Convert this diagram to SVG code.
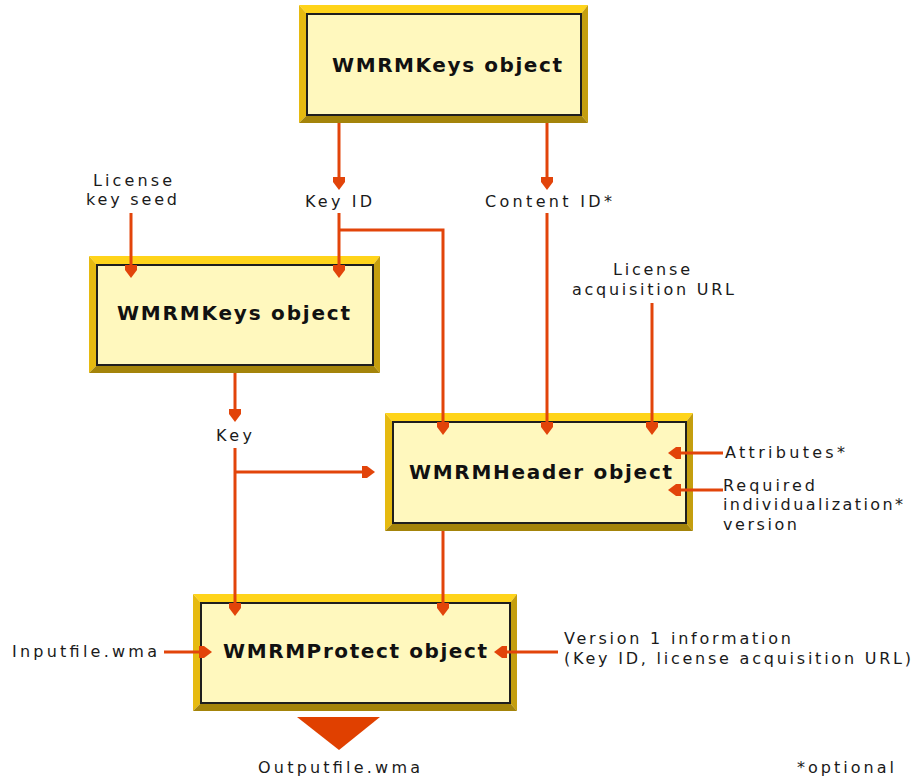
<svg xmlns="http://www.w3.org/2000/svg" width="914" height="779" viewBox="0 0 914 779">
  <style>
    .bt { fill: #FFD41A; }
    .bl { fill: #E6BA10; }
    .br { fill: #C49E0E; }
    .bb { fill: #A4840A; }
    .face { fill: #FFF8BE; stroke: #1E1E1E; stroke-width: 2; }
    .title { font-family: "DejaVu Sans", Verdana, sans-serif; font-weight: bold; font-size: 20px; fill: #111; }
    .lbl { font-family: "DejaVu Sans", Verdana, sans-serif; font-size: 16px; fill: #1a1a1a; }
    .wire { fill: none; stroke: #E2440A; stroke-width: 3; marker-end: url(#head); }
  </style>
  <defs>
    <marker id="head" markerUnits="userSpaceOnUse" viewBox="-6 -7 15 14" refX="0" refY="0" markerWidth="15" markerHeight="14" orient="auto">
      <polygon points="8,0 0,-6 -5,-6 -5,6 0,6" fill="#E2440A"/>
    </marker>
  </defs>

  <rect width="914" height="779" fill="#FFFFFF"/>

  <!-- WMRMKeys object (top) -->
  <g id="keys-top">
    <polygon class="bt" points="299,5 588,5 581,14 307,14"/>
    <polygon class="bl" points="299,5 307,14 307,115 299,123"/>
    <polygon class="br" points="588,5 588,123 581,115 581,14"/>
    <polygon class="bb" points="299,123 307,115 581,115 588,123"/>
    <rect class="face" x="307" y="14" width="274" height="101"/>
    <text class="title" x="332" y="72" textLength="230" lengthAdjust="spacing">WMRMKeys object</text>
  </g>

  <!-- WMRMKeys object (left) -->
  <g id="keys-left">
    <polygon class="bt" points="89,256 380,256 373,265 97,265"/>
    <polygon class="bl" points="89,256 97,265 97,365 89,373"/>
    <polygon class="br" points="380,256 380,373 373,365 373,265"/>
    <polygon class="bb" points="89,373 97,365 373,365 380,373"/>
    <rect class="face" x="97" y="265" width="276" height="100"/>
    <text class="title" x="117" y="320" textLength="233" lengthAdjust="spacing">WMRMKeys object</text>
  </g>

  <!-- WMRMHeader object -->
  <g id="header">
    <polygon class="bt" points="385,413 693,413 686,422 393,422"/>
    <polygon class="bl" points="385,413 393,422 393,523 385,531"/>
    <polygon class="br" points="693,413 693,531 686,523 686,422"/>
    <polygon class="bb" points="385,531 393,523 686,523 693,531"/>
    <rect class="face" x="393" y="422" width="293" height="101"/>
    <text class="title" x="409" y="479" textLength="263" lengthAdjust="spacing">WMRMHeader object</text>
  </g>

  <!-- WMRMProtect object -->
  <g id="protect">
    <polygon class="bt" points="193,594 517,594 510,603 201,603"/>
    <polygon class="bl" points="193,594 201,603 201,703 193,711"/>
    <polygon class="br" points="517,594 517,711 510,703 510,603"/>
    <polygon class="bb" points="193,711 201,703 510,703 517,711"/>
    <rect class="face" x="201" y="603" width="309" height="100"/>
    <text class="title" x="223" y="658" textLength="264" lengthAdjust="spacing">WMRMProtect object</text>
  </g>

  <!-- connectors, drawn over the box edges so the heads stay visible -->
  <g id="connectors">
    <path class="wire" d="M339,123 V182"/>
    <path class="wire" d="M547,123 V182"/>
    <path class="wire" d="M339,213 V270"/>
    <path class="wire" d="M339,230 H443 V427"/>
    <path class="wire" d="M131,213 V270"/>
    <path class="wire" d="M547,213 V427"/>
    <path class="wire" d="M652,303 V427"/>
    <path class="wire" d="M723,453 H676"/>
    <path class="wire" d="M723,490 H676"/>
    <path class="wire" d="M235,373 V414"/>
    <path class="wire" d="M235,448 V608"/>
    <path class="wire" d="M235,472 H367"/>
    <path class="wire" d="M443,531 V608"/>
    <path class="wire" d="M164,652 H204"/>
    <path class="wire" d="M558,652 H502"/>
    <polygon points="297,717 380,717 339,750" fill="#E04000"/>
  </g>

  <!-- labels -->
  <g id="labels">
    <text class="lbl" x="93" y="186" textLength="79" lengthAdjust="spacing">License</text>
    <text class="lbl" x="86" y="205" textLength="91" lengthAdjust="spacing">key seed</text>
    <text class="lbl" x="305" y="207" textLength="67" lengthAdjust="spacing">Key ID</text>
    <text class="lbl" x="485" y="207" textLength="127" lengthAdjust="spacing">Content ID*</text>
    <text class="lbl" x="613" y="275" textLength="77" lengthAdjust="spacing">License</text>
    <text class="lbl" x="572" y="295" textLength="162" lengthAdjust="spacing">acquisition URL</text>
    <text class="lbl" x="216" y="441" textLength="36" lengthAdjust="spacing">Key</text>
    <text class="lbl" x="725" y="458" textLength="120" lengthAdjust="spacing">Attributes*</text>
    <text class="lbl" x="723" y="491" textLength="92" lengthAdjust="spacing">Required</text>
    <text class="lbl" x="723" y="510" textLength="180" lengthAdjust="spacing">individualization*</text>
    <text class="lbl" x="723" y="530" textLength="74" lengthAdjust="spacing">version</text>
    <text class="lbl" x="12" y="657" textLength="145" lengthAdjust="spacing">Inputfile.wma</text>
    <text class="lbl" x="564" y="644" textLength="227" lengthAdjust="spacing">Version 1 information</text>
    <text class="lbl" x="564" y="664" textLength="347" lengthAdjust="spacing">(Key ID, license acquisition URL)</text>
    <text class="lbl" x="258" y="773" textLength="162" lengthAdjust="spacing">Outputfile.wma</text>
    <text class="lbl" x="797" y="773" textLength="97" lengthAdjust="spacing">*optional</text>
  </g>
</svg>
